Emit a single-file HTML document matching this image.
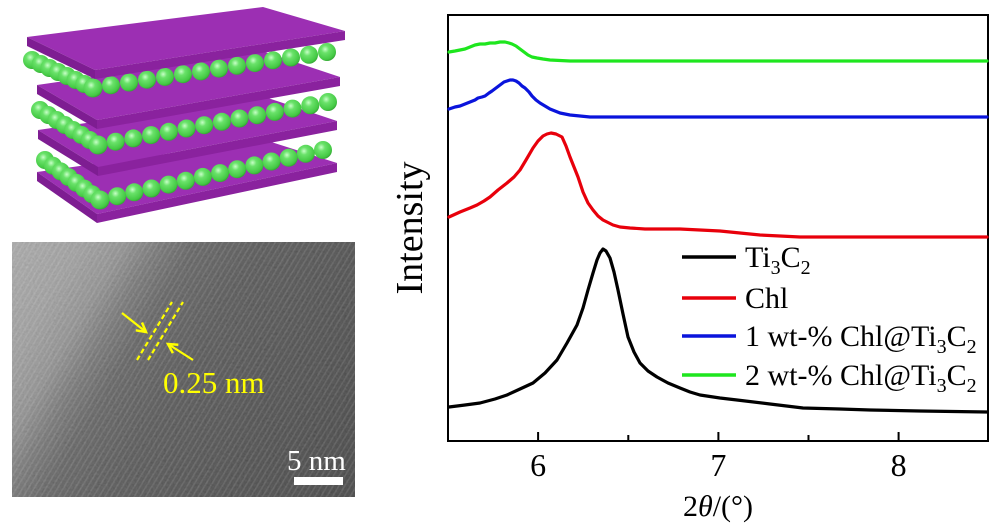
<!DOCTYPE html>
<html><head><meta charset="utf-8">
<style>
html,body{margin:0;padding:0;background:#fff;}
body{width:1000px;height:523px;overflow:hidden;position:relative;}
svg{position:absolute;left:0;top:0;}
text{font-family:"Liberation Serif",serif;}
</style></head><body>
<svg width="1000" height="523" viewBox="0 0 1000 523" xmlns="http://www.w3.org/2000/svg">
<defs>
 <radialGradient id="ball" cx="0.4" cy="0.35" r="0.7">
  <stop offset="0" stop-color="#c8ffc8"/>
  <stop offset="0.3" stop-color="#6ae26a"/>
  <stop offset="0.8" stop-color="#44c944"/>
  <stop offset="1" stop-color="#2f9a2f"/>
 </radialGradient>
 <linearGradient id="tem" gradientUnits="userSpaceOnUse" x1="1" y1="260" x2="366" y2="479">
  <stop offset="0" stop-color="#a6a6a6"/>
  <stop offset="0.14" stop-color="#9c9c9c"/>
  <stop offset="0.23" stop-color="#8c8c8c"/>
  <stop offset="0.30" stop-color="#6e6e6e"/>
  <stop offset="0.37" stop-color="#595959"/>
  <stop offset="0.5" stop-color="#4c4c4c"/>
  <stop offset="0.7" stop-color="#434343"/>
  <stop offset="1" stop-color="#383838"/>
 </linearGradient>
 <pattern id="stripes" patternUnits="userSpaceOnUse" width="12" height="5" patternTransform="rotate(-59)">
  <rect width="12" height="1.6" fill="#fff" opacity="0.1"/>
 </pattern>
 <filter id="noise" x="0" y="0" width="100%" height="100%">
  <feTurbulence type="fractalNoise" baseFrequency="0.45" numOctaves="2" seed="3"/>
  <feColorMatrix type="matrix" values="0.33 0.33 0.33 0 0 0.33 0.33 0.33 0 0 0.33 0.33 0.33 0 0 0 0 0 0 1"/>
 </filter>
</defs>

<!-- ===== Layered illustration ===== -->
<g id="illus">
 <!-- slab 3 (bottom) -->
 <polygon points="37,172 265,140 337,163 97,214" fill="#9c2fb3"/>
 <polygon points="37,172 97,214 97,223 37,181" fill="#7e1d92"/>
 <polygon points="97,214 337,163 337,172 97,223" fill="#8a229e"/>
 <!-- row 2 -->
 <g fill="url(#ball)">
  <circle cx="45" cy="160" r="9"/><circle cx="52.9" cy="165.7" r="9"/><circle cx="60.7" cy="171.4" r="9"/><circle cx="68.6" cy="177.1" r="9"/><circle cx="76.4" cy="182.9" r="9"/><circle cx="84.3" cy="188.6" r="9"/><circle cx="92.1" cy="194.3" r="9"/>
  <circle cx="323" cy="150" r="9"/><circle cx="305.8" cy="153.8" r="9"/><circle cx="288.7" cy="157.7" r="9"/><circle cx="271.5" cy="161.5" r="9"/><circle cx="254.4" cy="165.4" r="9"/><circle cx="237.2" cy="169.2" r="9"/><circle cx="220.1" cy="173.1" r="9"/><circle cx="202.9" cy="176.9" r="9"/><circle cx="185.8" cy="180.8" r="9"/><circle cx="168.6" cy="184.6" r="9"/><circle cx="151.5" cy="188.5" r="9"/><circle cx="134.3" cy="192.3" r="9"/><circle cx="117.2" cy="196.2" r="9"/>
  <circle cx="100" cy="200" r="9.5"/>
 </g>
 <!-- slab 2 -->
 <polygon points="38,130 265,97 337,121 98,167" fill="#9c2fb3"/>
 <polygon points="38,130 98,167 98,176 38,139" fill="#7e1d92"/>
 <polygon points="98,167 337,121 337,130 98,176" fill="#8a229e"/>
 <!-- row 1 -->
 <g fill="url(#ball)">
  <circle cx="40" cy="110" r="9"/><circle cx="48.3" cy="115" r="9"/><circle cx="56.6" cy="120" r="9"/><circle cx="64.9" cy="125" r="9"/><circle cx="73.1" cy="130" r="9"/><circle cx="81.4" cy="135" r="9"/><circle cx="89.7" cy="140" r="9"/>
  <circle cx="328" cy="102" r="9"/><circle cx="310.3" cy="105.3" r="9"/><circle cx="292.6" cy="108.6" r="9"/><circle cx="274.9" cy="111.9" r="9"/><circle cx="257.2" cy="115.2" r="9"/><circle cx="239.5" cy="118.5" r="9"/><circle cx="221.9" cy="121.8" r="9"/><circle cx="204.2" cy="125.2" r="9"/><circle cx="186.5" cy="128.5" r="9"/><circle cx="168.8" cy="131.8" r="9"/><circle cx="151.1" cy="135.1" r="9"/><circle cx="133.4" cy="138.4" r="9"/><circle cx="115.7" cy="141.7" r="9"/>
  <circle cx="98" cy="145" r="9.5"/>
 </g>
 <!-- slab 1 -->
 <polygon points="37,85 265,52 340,77 97,120" fill="#9c2fb3"/>
 <polygon points="37,85 97,120 97,129 37,94" fill="#7e1d92"/>
 <polygon points="97,120 340,77 340,86 97,129" fill="#8a229e"/>
 <!-- row 0 -->
 <g fill="url(#ball)">
  <circle cx="32" cy="60" r="9"/><circle cx="40.7" cy="64" r="9"/><circle cx="49.4" cy="68" r="9"/><circle cx="58.1" cy="72" r="9"/><circle cx="66.9" cy="76" r="9"/><circle cx="75.6" cy="80" r="9"/><circle cx="84.3" cy="84" r="9"/>
  <circle cx="327" cy="52" r="9"/><circle cx="309" cy="54.8" r="9"/><circle cx="291" cy="57.5" r="9"/><circle cx="273" cy="60.3" r="9"/><circle cx="255" cy="63.1" r="9"/><circle cx="237" cy="65.8" r="9"/><circle cx="219" cy="68.6" r="9"/><circle cx="201" cy="71.4" r="9"/><circle cx="183" cy="74.2" r="9"/><circle cx="165" cy="76.9" r="9"/><circle cx="147" cy="79.7" r="9"/><circle cx="129" cy="82.5" r="9"/><circle cx="111" cy="85.2" r="9"/>
  <circle cx="93" cy="88" r="9.5"/>
 </g>
 <!-- slab 0 (top) -->
 <polygon points="27,37 263,7 345,31 95,70" fill="#9c2fb3"/>
 <polygon points="27,37 95,70 95,79 27,46" fill="#7e1d92"/>
 <polygon points="95,70 345,31 345,40 95,79" fill="#8a229e"/>
</g>

<!-- ===== TEM image ===== -->
<g id="temimg">
 <rect x="12" y="242" width="343" height="255" fill="url(#tem)"/>
 <rect x="12" y="242" width="343" height="255" fill="url(#stripes)"/>
 <rect x="12" y="242" width="343" height="255" filter="url(#noise)" opacity="0.2"/>
 <g stroke="#ffff00" stroke-width="2.2" fill="none">
  <line x1="137" y1="360" x2="172" y2="302" stroke-dasharray="5 3"/>
  <line x1="148" y1="360" x2="183" y2="302" stroke-dasharray="5 3"/>
  <line x1="122" y1="313" x2="146" y2="332"/>
  <polyline points="135.8,330.3 146,332 142,322.5" stroke-width="2.5"/>
  <line x1="193" y1="360" x2="168" y2="344"/>
  <polyline points="178.3,344.7 168,344 172.9,353.1" stroke-width="2.5"/>
 </g>
 <text x="163" y="393" font-size="31" fill="#ffff00">0.25 nm</text>
 <text x="287" y="470" font-size="29" fill="#ffffff">5 nm</text>
 <rect x="294" y="477" width="49" height="8" fill="#ffffff"/>
</g>

<!-- ===== Chart ===== -->
<g id="chart">
 <rect x="448" y="15" width="540" height="426" fill="none" stroke="#000" stroke-width="2"/>
 <g stroke="#000" stroke-width="2">
  <line x1="538.1" y1="441" x2="538.1" y2="432"/>
  <line x1="718.4" y1="441" x2="718.4" y2="432"/>
  <line x1="898.6" y1="441" x2="898.6" y2="432"/>
  <line x1="628.3" y1="441" x2="628.3" y2="435"/>
  <line x1="808.5" y1="441" x2="808.5" y2="435"/>
 </g>
 <g font-size="32" text-anchor="middle" fill="#000">
  <text x="538.1" y="476">6</text>
  <text x="718.4" y="476">7</text>
  <text x="898.6" y="476">8</text>
 </g>
 <text x="718" y="516" font-size="30" text-anchor="middle">2<tspan font-style="italic">θ</tspan>/(°)</text>
 <text transform="translate(422,228) rotate(-90)" font-size="38" text-anchor="middle">Intensity</text>

 <g fill="none" stroke-width="3.2" stroke-linejoin="round" stroke-linecap="round">
  <polyline stroke="#1ee61e" points="449,52 455,51 460,50 465,49 470,47 475,45 480,44 485,44 490,43 495,43 500,42 505,42 509,43 512,44 516,46 520,49 524,52 528,55 532,57 537,58 543,59 550,60 560,60.5 570,61 600,61 650,61 700,61 800,61 900,61 987,61"/>
  <polyline stroke="#0a14dc" points="449,109 455,107 460,106 465,104 470,102 475,100 478,98 482,97 485,96 489,93 492,91 496,88 500,85 504,82 507,81 510,80 513,80 516,81 519,83 522,86 525,88 529,92 532,96 536,100 540,103 545,106 550,109 555,111 560,113 565,114 570,115 580,116 590,117 620,117 700,117 800,117 900,117 987,117"/>
  <polyline stroke="#e8000b" points="449,217 460,212 470,208 477,205 484,201 490,197 498,190 507,183 514,177 520,170 526,160 533,148 538,141 543,136 547,134 551,133 556,134 562,137 566,146 570,157 574,167 578,177 583,192 588,203 593,210 598,216 603,220 607,222 613,225 620,227 630,228 645,229 660,229 680,229 700,230 720,231 740,233 760,235 780,236 800,237 850,237 900,237 987,237"/>
  <polyline stroke="#000000" points="449,407 465,405 480,403 495,399 507,395 520,389 533,383 545,373 557,360 567,343 577,325 583,308 588,290 593,273 597,260 600,253 603,249 606,251 610,258 614,272 618,290 623,314 628,337 634,352 640,363 648,371 657,377 668,383 680,388 690,392 700,395 720,398 737,400 770,404 803,408 840,409 870,410 920,411 987,412"/>
 </g>

 <!-- legend -->
 <g stroke-width="3.5">
  <line x1="682" y1="257" x2="736" y2="257" stroke="#000"/>
  <line x1="682" y1="298" x2="736" y2="298" stroke="#e8000b"/>
  <line x1="682" y1="336" x2="736" y2="336" stroke="#0a14dc"/>
  <line x1="682" y1="375" x2="736" y2="375" stroke="#1ee61e"/>
 </g>
 <g font-size="30" fill="#000">
  <text x="745" y="267">Ti<tspan font-size="20" dy="7">3</tspan><tspan dy="-7">C</tspan><tspan font-size="20" dy="7">2</tspan></text>
  <text x="745" y="308">Chl</text>
  <text x="745" y="346">1 wt-% Chl@Ti<tspan font-size="20" dy="7">3</tspan><tspan dy="-7">C</tspan><tspan font-size="20" dy="7">2</tspan></text>
  <text x="745" y="385">2 wt-% Chl@Ti<tspan font-size="20" dy="7">3</tspan><tspan dy="-7">C</tspan><tspan font-size="20" dy="7">2</tspan></text>
 </g>
</g>
</svg>
</body></html>
